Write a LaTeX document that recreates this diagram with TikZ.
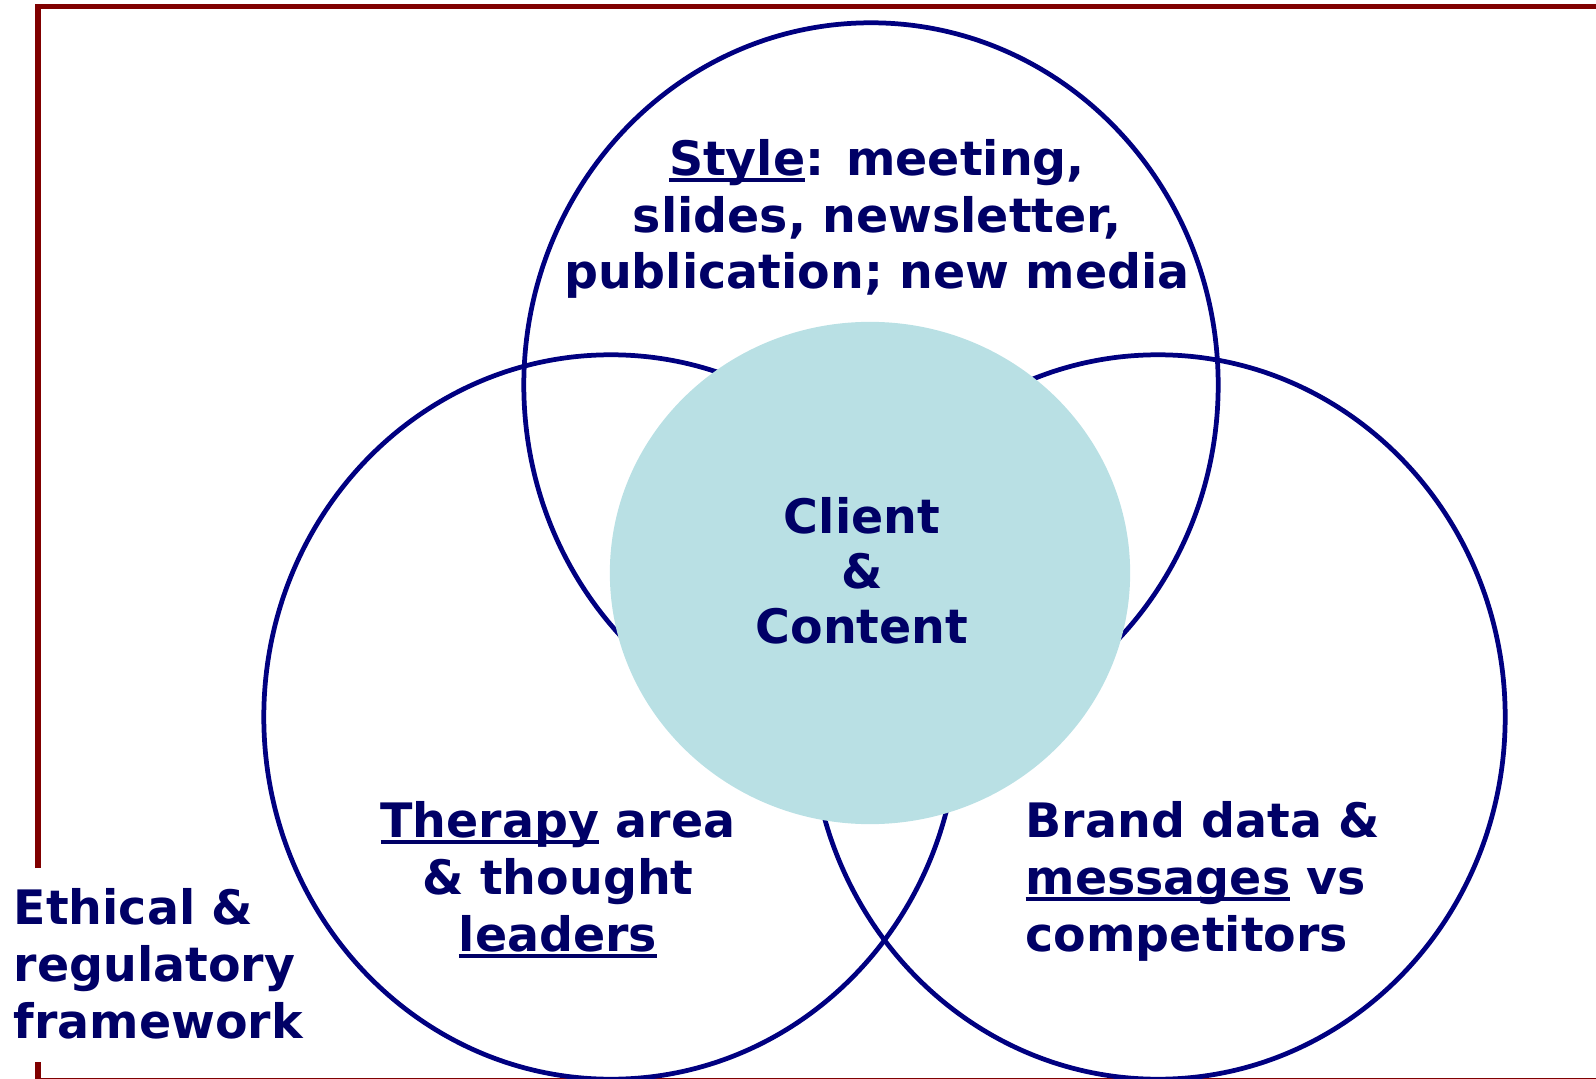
\documentclass[tikz,border=0pt]{standalone}
\usepackage{fontspec}
\setmainfont{DejaVu Sans}
\usetikzlibrary{shapes.geometric}

\definecolor{frameRed}{HTML}{800000}
\definecolor{vennBlue}{HTML}{000080}
\definecolor{textBlue}{HTML}{000066}
\definecolor{clientFill}{HTML}{B9E0E4}

% underline sitting just below the baseline
\newcommand{\undl}[1]{\setbox0\hbox{#1}\rlap{\rule[-2pt]{\wd0}{1.1pt}}\box0\relax}

\tikzset{
    venn/.style={ellipse, draw=vennBlue, line width=1.35pt, inner sep=0pt,
        minimum width=6.94cm, minimum height=7.24cm},
    label/.style={text=textBlue, inner sep=0pt,
        font=\bfseries\fontsize{13.5pt}{16.2pt}\selectfont}
}

\begin{document}
\begin{tikzpicture}[x=0.01cm, y=-0.01cm]
        \useasboundingbox (0,0) rectangle (1596,1079);
        \clip (0,0) rectangle (1596,1079);

        % outer frame, open on the left for the label
        \draw[frameRed, line width=1.5pt] (38,868) -- (38,6.7) -- (1700,6.7)
            -- (1700,1080.5) -- (38,1080.5) -- (38,1062);

        % three circles
        \node[venn] (style) at (871,385) {};
        \node[venn] (therapy) at (611,717) {};
        \node[venn] (brand) at (1158,717) {};

        % centre
        \node[ellipse, fill=clientFill, inner sep=0pt,
            minimum width=5.2cm, minimum height=5.02cm] (client) at (870,573) {};

        % texts (base = last line)
        \node[label, align=center, anchor=base] (styletext) at (877,289)
            {\undl{Style}: meeting,\\ slides, newsletter,\\ publication; new media};
        \node[label, align=center, anchor=base,
            font=\bfseries\fontsize{13.5pt}{15.6pt}\selectfont] (clienttext) at (862,643)
            {Client\\ \&\\ Content};
        \node[label, align=center, anchor=base] (therapytext) at (558,951)
            {\undl{Therapy} area\\ \& thought\\ \undl{leaders}};
        \node[label, align=left, anchor=base west] (brandtext) at (1025,951)
            {Brand data \&\\ \undl{messages} vs\\ competitors};

        % framework label
        \node[label, align=left, anchor=base west] (ethics) at (13,1038)
            {Ethical \&\\ regulatory\\ framework};
    \end{tikzpicture}
\end{document}
